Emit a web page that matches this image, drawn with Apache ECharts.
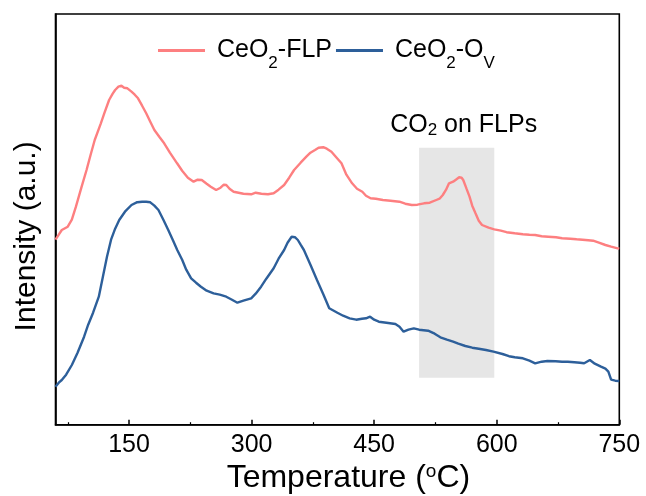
<!DOCTYPE html>
<html>
<head>
<meta charset="utf-8">
<script src="https://cdn.jsdelivr.net/npm/echarts@6/dist/echarts.min.js"></script>
<style>
  html, body { margin: 0; padding: 0; background: #fff; }
  #main { width: 646px; height: 496px; }
</style>
</head>
<body>
<div id="main"></div>
<script>
// CO2-TPD curves, intensity in arbitrary units
var tempFLP = [60, 64, 67.7, 75, 80, 85, 92, 98, 103, 108, 115.5, 120, 125.6, 130, 133, 137, 140.7, 144, 148, 153, 157, 161, 166, 171, 176, 181, 187, 193, 200, 208.8, 215, 222, 229, 234, 239, 245, 250, 256.6, 262, 266, 269, 273, 278, 284, 290, 299.5, 305, 312, 320, 327, 333, 339.8, 346, 352, 360, 367, 372, 377.6, 382, 387.7, 392, 397.7, 403, 410, 416, 423, 429, 435.5, 440, 445.6, 452, 460.7, 470, 480.9, 488, 496, 503, 511, 518, 526, 530, 534, 538, 541.6, 546.6, 550, 554, 557, 559, 563, 566.7, 570, 574, 578, 582, 590, 597, 605, 612, 622, 632, 640, 647, 655, 663, 672.6, 680, 690, 697.8, 705, 712, 718, 725, 733, 740, 748, 750]
var valFLP = [185, 190, 194.7, 198, 205, 218, 238, 254.7, 270, 284.7, 301.4, 312, 324.7, 331, 334.7, 338, 339, 337, 336.4, 333, 330, 326.4, 319, 311.4, 303, 294.7, 288, 281.4, 272, 261.4, 254, 247, 243, 245, 244.7, 241, 238, 234.7, 237, 240, 239.7, 236, 233, 232, 231, 230.4, 232, 231, 230.5, 231.4, 235, 239.7, 247, 254.7, 262, 268, 272, 274.7, 277, 277.5, 276, 273, 268, 261.4, 250, 241.4, 236, 233, 229, 226.4, 226, 224.7, 224, 223, 221, 219.7, 220, 221.4, 222, 224.7, 226, 229.7, 235, 241.4, 243, 245, 247.5, 247, 244.7, 236, 228, 219, 211.4, 204, 199.7, 197, 195.4, 194, 192.5, 191.4, 190.5, 190, 189.7, 188.5, 188, 187.4, 186.5, 186, 185.4, 185, 184.5, 184, 182, 179.7, 178, 176.4, 176]

var tempOV = [60, 64, 67.7, 73, 80, 87, 95, 100, 106, 113, 118, 123, 128, 133, 138, 145, 153, 160, 166, 171, 176, 181, 186, 192, 198, 204, 209, 215, 220, 226, 232, 238, 245, 253.5, 261, 269, 276, 282.6, 290, 299.5, 305, 311.6, 318, 327, 333, 339.8, 344, 349, 353, 356.6, 360, 364, 372, 380, 388, 395, 405, 412, 420, 428, 435, 440, 445, 450, 455.7, 465, 476, 481, 486, 492, 498.5, 505, 516, 524, 531, 539, 546.6, 553, 561.6, 570, 578, 586.8, 596, 607, 615, 622, 632, 640, 647, 655, 662, 672, 680, 687, 695, 702, 707, 714, 720, 727.6, 733, 736.6, 740, 745, 750]
var valOV = [38, 42, 44.7, 50, 59.7, 72, 88, 100, 112, 128, 148, 168, 185, 196, 204.7, 213, 219.7, 222.5, 223, 223, 222.4, 219, 214.7, 205, 194.7, 184, 174.7, 165, 155, 146.4, 142, 138, 134, 131.4, 130, 128, 125, 122, 124, 126.4, 131, 138, 146, 156.4, 166, 174.7, 182, 188, 187.5, 184.7, 180, 174.7, 160, 144.7, 130, 116.4, 112, 109, 106.4, 105, 106, 106.4, 108, 105, 103, 102, 100.7, 98, 93, 95, 96.4, 95, 94, 91, 87.4, 85, 83, 81, 78.7, 77, 76, 74.7, 73, 70.7, 68.5, 67.4, 66.4, 64, 61.4, 63, 63.7, 63.5, 63, 63, 62.5, 62, 61.4, 64.7, 61, 58, 56, 53, 45, 44, 43.7]

var xTicks = [150, 300, 450, 600, 750]
var xMinorTicks = [75, 225, 375, 525, 675]
var bandRange = [505, 597]
var bandHeight = [47, 277]

var FONT = 'Liberation Sans, Arial, sans-serif'
var RED = '#fd7f80'
var BLUE = '#2d5f9a'

function pairs (xs, ys) {
  return xs.map(function (x, i) { return [x, ys[i]] })
}

var chartDom = document.getElementById('main')
var myChart = echarts.init(chartDom)

var subRich = {
  n: { fontSize: 25, fontFamily: FONT, color: '#000', lineHeight: 28, verticalAlign: 'middle' },
  s: { fontSize: 17, fontFamily: FONT, color: '#000', lineHeight: 17, padding: [21, 0, 0, 0], verticalAlign: 'bottom' }
}
// legend: subscript dropped through line heights only (h sets the line box)
var legendRich = {
  h: { fontSize: 25, fontFamily: FONT, color: '#000', lineHeight: 42, verticalAlign: 'middle' },
  n: { fontSize: 25, fontFamily: FONT, color: '#000', lineHeight: 28, verticalAlign: 'middle' },
  s: { fontSize: 17, fontFamily: FONT, color: '#000', lineHeight: 28, verticalAlign: 'bottom' }
}

var option = {
  animation: false,
  grid: {
    left: 55.5,
    right: 26.7,
    top: 14,
    bottom: 71.3,
    outerBoundsMode: 'none',
    containLabel: false,
    show: true,
    borderColor: '#000',
    borderWidth: 1.6
  },
  legend: {
    left: 153,
    top: 33,
    itemWidth: 47,
    itemHeight: 3,
    itemGap: 4,
    icon: 'rect',
    data: ['CeO2-FLP', 'CeO2-OV'],
    formatter: function (name) {
      if (name === 'CeO2-FLP') return '{h| }{n|CeO}{s|2}{n|-FLP}'
      return '{h| }{n|CeO}{s|2}{n|-O}{s|V}'
    },
    textStyle: { rich: legendRich }
  },
  xAxis: [
    {
      type: 'value',
      min: 60,
      max: 750,
      position: 'bottom',
      axisLine: { show: true, lineStyle: { color: '#000', width: 1.6 } },
      axisTick: { show: true, inside: true, length: 5, customValues: xTicks, lineStyle: { color: '#000', width: 1.5 } },
      axisLabel: { show: true, customValues: xTicks, margin: 8, fontSize: 25, fontFamily: FONT, color: '#000' },
      splitLine: { show: false },
      name: 'Temperature ({sup|o}C)',
      nameLocation: 'middle',
      nameGap: 26,
      nameTextStyle: {
        fontSize: 32,
        fontFamily: FONT,
        color: '#000',
        padding: [0, 0, 0, 22],
        rich: {
          sup: { fontSize: 19, fontFamily: FONT, color: '#000', verticalAlign: 'top', lineHeight: 30, padding: [0, 0, 16, 0] }
        }
      }
    },
    {
      type: 'value',
      min: 60,
      max: 750,
      position: 'bottom',
      axisLine: { show: false },
      axisTick: { show: true, inside: true, length: 2.5, customValues: xMinorTicks, lineStyle: { color: '#000', width: 1.2 } },
      axisLabel: { show: false },
      splitLine: { show: false }
    }
  ],
  yAxis: {
    type: 'value',
    min: 0,
    max: 410.7,
    axisLine: { show: true, lineStyle: { color: '#000', width: 1.6 } },
    axisTick: { show: false },
    axisLabel: { show: false },
    splitLine: { show: false },
    name: 'Intensity (a.u.)',
    nameLocation: 'middle',
    nameGap: 14,
    nameTextStyle: { fontSize: 30, fontFamily: FONT, color: '#000', padding: [0, 34, 0, 0] }
  },
  series: [
    {
      name: 'band',
      type: 'line',
      data: [],
      z: 1,
      silent: true,
      markArea: {
        silent: true,
        itemStyle: { color: '#e6e6e6' },
        label: {
          show: true,
          position: 'top',
          distance: 9,
          offset: [7, 0],
          formatter: '{n|CO}{s|2}{n| on FLPs}',
          rich: subRich
        },
        data: [[
          { xAxis: bandRange[0], yAxis: bandHeight[1] },
          { xAxis: bandRange[1], yAxis: bandHeight[0] }
        ]]
      }
    },
    {
      name: 'CeO2-FLP',
      type: 'line',
      z: 3,
      showSymbol: false,
      symbol: 'none',
      color: RED,
      lineStyle: { color: RED, width: 2.4 },
      data: pairs(tempFLP, valFLP)
    },
    {
      name: 'CeO2-OV',
      type: 'line',
      z: 3,
      showSymbol: false,
      symbol: 'none',
      color: BLUE,
      lineStyle: { color: BLUE, width: 2.4 },
      data: pairs(tempOV, valOV)
    }
  ]
}

myChart.setOption(option)
</script>
</body>
</html>
